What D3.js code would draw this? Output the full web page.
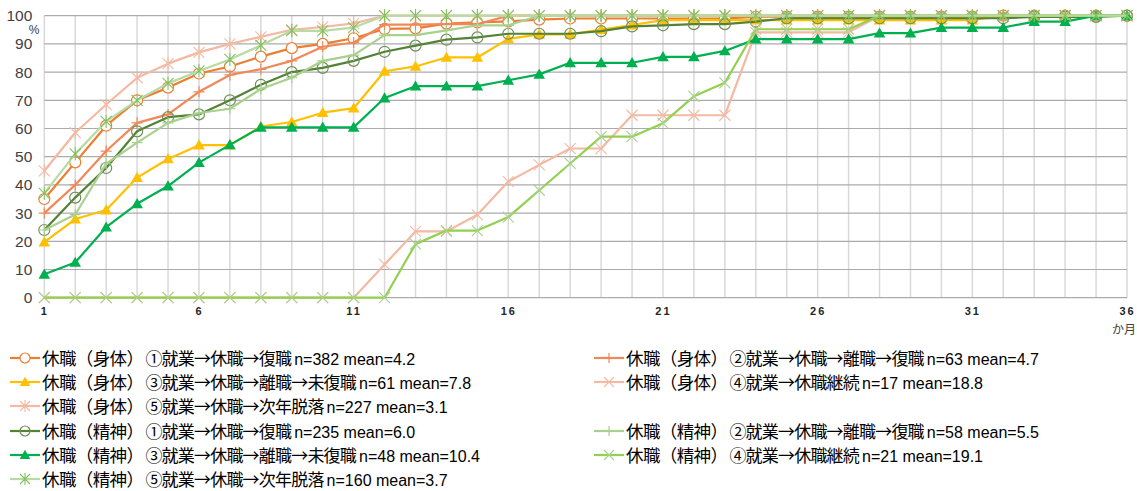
<!DOCTYPE html>
<html><head><meta charset="utf-8">
<script src="https://cdn.jsdelivr.net/npm/d3@7"></script>
<style>
html,body{margin:0;padding:0;background:#fff;}
svg{display:block;}
</style></head>
<body>
<svg id="chart" width="1137" height="491"></svg>
<script>
// ---------- data ----------
const months = d3.range(1, 37);
const yTicks = [0,10,20,30,40,50,60,70,80,90,100];
const xTickLabels = [1,6,11,16,21,26,31,36];

const physical1 = [35,48,61,70,74.5,79.5,82,85.5,88.5,90,92,95.3,95.5,97.2,97.6,98,98.6,99,99,99,99,99,99,99.6,99.7,99.7,99.7,99.7,99.7,99.7,99.7,100,100,100,100,100];
const physical2 = [30,40,52,62,65,73,79,81,84,89,90.5,96.8,96.8,97,97,100,100,100,100,100,100,100,100,100,100,100,100,100,100,100,100,100,100,100,100,100];
const physical3 = [19.7,27.9,31.1,42.6,49.2,54.1,54.1,60.7,62.3,65.6,67.2,80.3,82.0,85.2,85.2,91.8,93.4,93.4,95.1,96.7,98.4,98.4,98.4,98.4,98.4,98.4,98.4,98.4,98.4,98.4,98.4,100,100,100,100,100];
const physical4 = [0,0,0,0,0,0,0,0,0,0,0,11.8,23.5,23.5,29.4,41.2,47.1,52.9,52.9,64.7,64.7,64.7,64.7,94.1,94.1,94.1,94.1,100,100,100,100,100,100,100,100,100];
const physical5 = [45,58.5,68.5,78,83,87,90,92.5,95,96,97.3,100,100,100,100,100,100,100,100,100,100,100,100,100,100,100,100,100,100,100,100,100,100,100,100,100];
const mental1 = [24,35.5,46,59,64,65,70,75.5,80,81.5,84,87.2,89.4,91.5,92.3,93.6,93.6,93.6,94.5,96.2,96.6,97,97,97.9,99.1,99.1,99.1,99.1,99.1,99.1,99.1,99.1,99.6,99.6,99.6,100];
const mental2 = [24,29.5,47.5,55,62,65.5,67,74,78,84,86,93.1,93.1,94.8,96.6,96.6,100,100,100,100,100,100,100,100,100,100,100,100,100,100,100,100,100,100,100,100];
const mental3 = [8.3,12.5,25,33.3,39.6,47.9,54.2,60.4,60.4,60.4,60.4,70.8,75,75,75,77.1,79.2,83.3,83.3,83.3,85.4,85.4,87.5,91.7,91.7,91.7,91.7,93.8,93.8,95.8,95.8,95.8,97.9,97.9,100,100];
const mental4 = [0,0,0,0,0,0,0,0,0,0,0,0,19.0,23.8,23.8,28.6,38.1,47.6,57.1,57.1,61.9,71.4,76.2,95.2,95.2,95.2,95.2,100,100,100,100,100,100,100,100,100];
const mental5 = [37,51,62.5,70,76,80.4,84.5,89.5,94.7,94.6,95.8,100,100,100,100,100,100,100,100,100,100,100,100,100,100,100,100,100,100,100,100,100,100,100,100,100];

const seriesNames = [
  "休職（身体）①就業→休職→復職",
  "休職（身体）②就業→休職→離職→復職",
  "休職（身体）③就業→休職→離職→未復職",
  "休職（身体）④就業→休職継続",
  "休職（身体）⑤就業→休職→次年脱落",
  "休職（精神）①就業→休職→復職",
  "休職（精神）②就業→休職→離職→復職",
  "休職（精神）③就業→休職→離職→未復職",
  "休職（精神）④就業→休職継続",
  "休職（精神）⑤就業→休職→次年脱落"
];
const seriesStats = [
  "n=382 mean=4.2","n=63 mean=4.7","n=61 mean=7.8","n=17 mean=18.8","n=227 mean=3.1",
  "n=235 mean=6.0","n=58 mean=5.5","n=48 mean=10.4","n=21 mean=19.1","n=160 mean=3.7"
];
const seriesValues = [physical1,physical2,physical3,physical4,physical5,mental1,mental2,mental3,mental4,mental5];

// ---------- styles ----------
const styles = [
  {color:"#ED7D31", marker:"circle",   markerColor:"#ED7D31", fill:"#fff"},
  {color:"#F0895A", marker:"plus",     markerColor:"#F0895A"},
  {color:"#FFC000", marker:"triangle", markerColor:"#FFC000"},
  {color:"#F4B9A2", marker:"x",        markerColor:"#F4B9A2"},
  {color:"#F4B9A2", marker:"star",     markerColor:"#F4B9A2"},
  {color:"#548235", marker:"circle",   markerColor:"#6E8F58", fill:"none"},
  {color:"#A9D18E", marker:"plus",     markerColor:"#A9D18E"},
  {color:"#00B050", marker:"triangle", markerColor:"#00B050"},
  {color:"#92D050", marker:"x",        markerColor:"#A9D18E"},
  {color:"#B8DBA4", marker:"star",     markerColor:"#84C060"}
];

const svg = d3.select("#chart");
const x = d3.scaleLinear().domain([1,36]).range([44.3,1127]);
const y = d3.scaleLinear().domain([0,100]).range([297.7,15.7]);

// grid
svg.append("g").selectAll("line").data(months).join("line")
  .attr("x1",d=>x(d)).attr("x2",d=>x(d)).attr("y1",y(100)).attr("y2",y(0))
  .attr("stroke","#d9d9d9").attr("stroke-width",1.5);
svg.append("g").selectAll("line").data(yTicks).join("line")
  .attr("x1",x(1)).attr("x2",x(36)).attr("y1",d=>y(d)).attr("y2",d=>y(d))
  .attr("stroke","#ababab").attr("stroke-width",1.2);

// y axis labels
const yAxis = d3.axisLeft(y).tickValues(yTicks).tickSize(0).tickPadding(12);
const gy = svg.append("g").attr("transform",`translate(${x(1)},0)`).call(yAxis);
gy.select(".domain").remove();
gy.selectAll("text").attr("font-family","Liberation Sans, Arial, sans-serif").attr("font-size",15.5).attr("fill","#404040");
svg.append("text").attr("x",34).attr("y",34).attr("text-anchor","middle")
  .attr("font-family","Liberation Sans, Arial, sans-serif").attr("font-size",12).attr("fill","#404040").text("%");

// x axis labels
const xAxis = d3.axisBottom(x).tickValues(xTickLabels).tickSize(0).tickPadding(10);
const gx = svg.append("g").attr("transform",`translate(0,${y(0)})`).call(xAxis);
gx.select(".domain").remove();
gx.selectAll("text").attr("font-family","Liberation Sans, Arial, sans-serif").attr("font-size",11)
  .attr("font-weight","bold").attr("fill","#262626").attr("letter-spacing","2px");
svg.append("text").attr("x",1136).attr("y",334).attr("text-anchor","end")
  .attr("font-family","Noto Sans CJK JP, sans-serif").attr("font-size",12).attr("fill","#404040").text("か月");

// marker drawer
function drawMarker(g, type, color, size, fill){
  const s = size/2;
  if(type==="circle"){
    g.append("circle").attr("r",s).attr("fill",fill||"#fff").attr("stroke",color).attr("stroke-width",1.2);
  } else if(type==="triangle"){
    g.append("path").attr("d",`M0,${-s*1.05}L${s*1.05},${s*0.8}L${-s*1.05},${s*0.8}Z`).attr("fill",color);
  } else if(type==="plus"){
    g.append("path").attr("d",`M${-s},0H${s}M0,${-s}V${s}`).attr("stroke",color).attr("stroke-width",1.2);
  } else if(type==="x"){
    g.append("path").attr("d",`M${-s},${-s}L${s},${s}M${-s},${s}L${s},${-s}`).attr("stroke",color).attr("stroke-width",1.1);
  } else if(type==="star"){
    g.append("path").attr("d",`M${-s},${-s}L${s},${s}M${-s},${s}L${s},${-s}M0,${-s*1.2}V${s*1.2}`).attr("stroke",color).attr("stroke-width",1.1);
  }
}

const line = d3.line().x((d,i)=>x(months[i])).y(d=>y(d));
seriesValues.forEach((vals,k)=>{
  const st = styles[k];
  const g = svg.append("g");
  g.append("path").datum(vals).attr("d",line).attr("fill","none")
    .attr("stroke",st.color).attr("stroke-width",2.2).attr("stroke-linejoin","round");
  g.selectAll("g.m").data(vals).join("g").attr("class","m")
    .attr("transform",(d,i)=>`translate(${x(months[i])},${y(d)})`)
    .each(function(){ drawMarker(d3.select(this), st.marker, st.markerColor, 11, st.fill); });
});

// legend
const legendSlots = [[0,0],[1,0],[0,1],[1,1],[0,2],[0,3],[1,3],[0,4],[1,4],[0,5]];
const colX = [10, 594];
const rowY = [358, 382, 406, 431, 455, 479];
seriesNames.forEach((name,k)=>{
  const [c,r] = legendSlots[k];
  const st = styles[k];
  const g = svg.append("g").attr("transform",`translate(${colX[c]},${rowY[r]})`);
  g.append("line").attr("x1",0).attr("x2",30).attr("y1",0).attr("y2",0).attr("stroke",st.color).attr("stroke-width",2.2);
  const mg = g.append("g").attr("transform","translate(15,0)");
  drawMarker(mg, st.marker, st.markerColor, 10, st.fill);
  const t = g.append("text").attr("x",32).attr("y",6.5).attr("fill","#000");
  t.append("tspan").attr("font-family","Noto Sans CJK JP, sans-serif").attr("font-size",17.5).attr("letter-spacing","-0.6").text(name.slice(0,6));
  t.append("tspan").attr("font-family","Noto Sans CJK JP, sans-serif").attr("font-size",17).attr("letter-spacing","-0.8").attr("dx",2).text(name.slice(6));
  t.append("tspan").attr("font-family","Liberation Sans Narrow, Liberation Sans, Arial, sans-serif").attr("font-size",16).attr("letter-spacing","0").attr("dx",3).text(seriesStats[k]);
});
</script>
</body></html>
